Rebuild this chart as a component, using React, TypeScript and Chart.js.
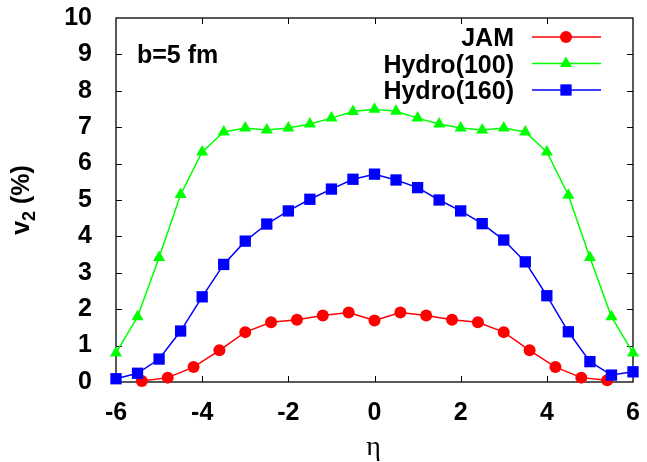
import React, { useEffect, useRef } from 'react';
import { Chart, registerables } from 'chart.js';

Chart.register(...registerables);

const etaHydro = [-6, -5.5, -5, -4.5, -4, -3.5, -3, -2.5, -2, -1.5, -1, -0.5, 0, 0.5, 1, 1.5, 2, 2.5, 3, 3.5, 4, 4.5, 5, 5.5, 6];
const etaJam = [-5.4, -4.8, -4.2, -3.6, -3.0, -2.4, -1.8, -1.2, -0.6, 0, 0.6, 1.2, 1.8, 2.4, 3.0, 3.6, 4.2, 4.8, 5.4];
const jamV2 = [0.03, 0.12, 0.41, 0.87, 1.37, 1.64, 1.71, 1.83, 1.91, 1.69, 1.91, 1.83, 1.71, 1.64, 1.37, 0.87, 0.41, 0.12, 0.05];
const hydro100V2 = [0.80, 1.79, 3.42, 5.15, 6.32, 6.87, 6.98, 6.92, 6.98, 7.09, 7.25, 7.43, 7.49, 7.44, 7.25, 7.09, 6.98, 6.92, 6.98, 6.87, 6.32, 5.13, 3.42, 1.79, 0.80];
const hydro160V2 = [0.09, 0.24, 0.63, 1.40, 2.34, 3.23, 3.87, 4.34, 4.70, 5.02, 5.30, 5.57, 5.71, 5.55, 5.34, 5.00, 4.70, 4.35, 3.90, 3.30, 2.37, 1.38, 0.56, 0.19, 0.28];
const xTicks = [-6, -4, -2, 0, 2, 4, 6];
const yTicks = [0, 1, 2, 3, 4, 5, 6, 7, 8, 9, 10];
const seriesLabels = ['JAM', 'Hydro(100)', 'Hydro(160)'];
const annotationText = 'b=5 fm';
const xTitle = 'η';

const FONT = "'Liberation Sans', Arial, Helvetica, sans-serif";
const FS = 25;

function drawMarker(ctx: CanvasRenderingContext2D, style: string, x: number, y: number, r: number, color: string) {
  ctx.save();
  ctx.fillStyle = color;
  ctx.beginPath();
  if (style === 'circle') {
    ctx.arc(x, y, r, 0, Math.PI * 2);
  } else if (style === 'triangle') {
    for (let i = 0; i < 3; i++) {
      const a = (i * 2 * Math.PI) / 3;
      const px = x + Math.sin(a) * r;
      const py = y - Math.cos(a) * r;
      if (i === 0) ctx.moveTo(px, py);
      else ctx.lineTo(px, py);
    }
    ctx.closePath();
  } else {
    const s = Math.SQRT1_2 * r;
    ctx.rect(x - s, y - s, 2 * s, 2 * s);
  }
  ctx.fill();
  ctx.restore();
}

const framePlugin = {
  id: 'gnuframe',
  beforeDatasetsDraw(chart: any) {
    const { ctx, chartArea } = chart;
    const { left, right, top, bottom } = chartArea;
    const xs = chart.scales.x;
    const ys = chart.scales.y;
    const tl = 6;
    ctx.save();
    ctx.strokeStyle = '#000';
    ctx.lineWidth = 1;
    xTicks.forEach((v) => {
      if (v === xTicks[0] || v === xTicks[xTicks.length - 1]) return;
      const px = Math.round(xs.getPixelForValue(v)) + 0.5;
      ctx.beginPath();
      ctx.moveTo(px, bottom);
      ctx.lineTo(px, bottom - tl);
      ctx.moveTo(px, top);
      ctx.lineTo(px, top + tl);
      ctx.stroke();
    });
    yTicks.forEach((v) => {
      if (v === yTicks[0] || v === yTicks[yTicks.length - 1]) return;
      const py = Math.round(ys.getPixelForValue(v)) + 0.5;
      ctx.beginPath();
      ctx.moveTo(left, py);
      ctx.lineTo(left + tl, py);
      ctx.moveTo(right, py);
      ctx.lineTo(right - tl, py);
      ctx.stroke();
    });
    ctx.lineWidth = 1.3;
    ctx.strokeRect(left, top, right - left, bottom - top);
    ctx.restore();
  },
  afterDraw(chart: any) {
    const { ctx, chartArea } = chart;
    ctx.save();
    ctx.fillStyle = '#000';
    // annotation
    ctx.font = `bold ${FS}px ${FONT}`;
    ctx.textAlign = 'left';
    ctx.textBaseline = 'alphabetic';
    ctx.fillText(annotationText, 137, 63);
    // legend
    const rows = [37, 63.5, 90];
    chart.data.datasets.forEach((ds: any, i: number) => {
      const cy = rows[i];
      ctx.fillStyle = '#000';
      ctx.font = `bold ${FS}px ${FONT}`;
      ctx.textAlign = 'right';
      ctx.textBaseline = 'alphabetic';
      ctx.fillText(ds.label, 514, cy + 9);
      ctx.strokeStyle = ds.borderColor;
      ctx.lineWidth = 1.5;
      ctx.beginPath();
      ctx.moveTo(532, cy);
      ctx.lineTo(601, cy);
      ctx.stroke();
      drawMarker(ctx, ds.pointStyle, 566, cy, ds.pointRadius, ds.backgroundColor);
    });
    // y title: v_2 (%)
    ctx.save();
    ctx.translate(29, (chartArea.top + chartArea.bottom) / 2);
    ctx.rotate(-Math.PI / 2);
    ctx.fillStyle = '#000';
    ctx.textAlign = 'left';
    ctx.textBaseline = 'alphabetic';
    const big = `bold ${FS}px ${FONT}`;
    const small = `bold 18px ${FONT}`;
    ctx.font = big;
    const w1 = ctx.measureText('v').width;
    const w3 = ctx.measureText(' (%)').width;
    ctx.font = small;
    const w2 = ctx.measureText('2').width;
    const total = w1 + w2 + w3;
    let x0 = -total / 2;
    ctx.font = big;
    ctx.fillText('v', x0, 0);
    x0 += w1;
    ctx.font = small;
    ctx.fillText('2', x0, 6);
    x0 += w2;
    ctx.font = big;
    ctx.fillText(' (%)', x0, 0);
    ctx.restore();
    // x title
    ctx.font = `28px 'Liberation Serif', 'DejaVu Serif', serif`;
    ctx.textAlign = 'center';
    ctx.textBaseline = 'alphabetic';
    ctx.fillText(xTitle, (chartArea.left + chartArea.right) / 2 - 1, 455);
    ctx.restore();
  },
};

export default function App() {
  const canvasRef = useRef<HTMLCanvasElement | null>(null);

  useEffect(() => {
    const canvas = canvasRef.current;
    if (!canvas) return;
    const chart = new Chart(canvas, {
      type: 'line',
      data: {
        datasets: [
          {
            label: seriesLabels[0],
            data: etaJam.map((x, i) => ({ x, y: jamV2[i] })),
            borderColor: '#ff0000',
            backgroundColor: '#ff0000',
            pointStyle: 'circle',
            pointRadius: 6,
            pointBorderWidth: 0,
            borderWidth: 1.5,
            order: 3,
          },
          {
            label: seriesLabels[1],
            data: etaHydro.map((x, i) => ({ x, y: hydro100V2[i] })),
            borderColor: '#00ff00',
            backgroundColor: '#00ff00',
            pointStyle: 'triangle',
            pointRadius: 7,
            pointBorderWidth: 0,
            borderWidth: 1.5,
            order: 2,
          },
          {
            label: seriesLabels[2],
            data: etaHydro.map((x, i) => ({ x, y: hydro160V2[i] })),
            borderColor: '#0000ff',
            backgroundColor: '#0000ff',
            pointStyle: 'rect',
            pointRadius: 8,
            pointBorderWidth: 0,
            borderWidth: 1.5,
            order: 1,
          },
        ],
      },
      options: {
        animation: false,
        responsive: false,
        maintainAspectRatio: false,
        layout: { padding: { top: 18, right: 14, left: 0, bottom: 0 } },
        plugins: { legend: { display: false }, tooltip: { enabled: false } },
        elements: { line: { tension: 0 } },
        datasets: { line: { clip: false } as any },
        scales: {
          x: {
            type: 'linear',
            min: -6,
            max: 6,
            grid: { display: false },
            border: { display: false },
            afterBuildTicks: (scale: any) => {
              scale.ticks = xTicks.map((v) => ({ value: v }));
            },
            afterFit: (scale: any) => {
              scale.height = 80;
              scale.paddingLeft = 0;
              scale.paddingRight = 0;
            },
            ticks: {
              color: '#000',
              font: { family: FONT, size: FS, weight: 'bold' },
              padding: 8,
              maxRotation: 0,
              autoSkip: false,
            },
          },
          y: {
            type: 'linear',
            min: 0,
            max: 10,
            grid: { display: false },
            border: { display: false },
            afterBuildTicks: (scale: any) => {
              scale.ticks = yTicks.map((v) => ({ value: v }));
            },
            afterFit: (scale: any) => {
              scale.width = 116;
              scale.paddingTop = 0;
              scale.paddingBottom = 0;
            },
            ticks: {
              color: '#000',
              font: { family: FONT, size: FS, weight: 'bold' },
              padding: 16,
              autoSkip: false,
            },
          },
        },
      },
      plugins: [framePlugin],
    } as any);
    return () => chart.destroy();
  }, []);

  return (
    <div style={{ position: 'fixed', left: 0, top: 0, width: 647, height: 462, background: '#fff' }}>
      <canvas ref={canvasRef} width={647} height={462} style={{ width: 647, height: 462 }} />
    </div>
  );
}
